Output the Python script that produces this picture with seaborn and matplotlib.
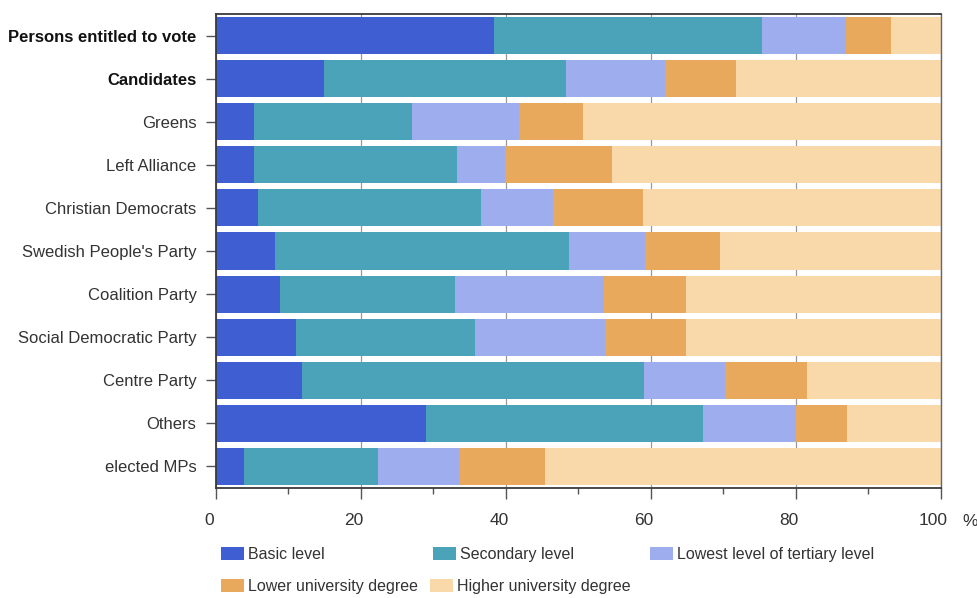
import matplotlib
matplotlib.use("Agg")
import matplotlib.pyplot as plt
import matplotlib.transforms as mtransforms
from matplotlib import font_manager
from matplotlib.patches import Patch
from matplotlib.ticker import MultipleLocator
import pandas as pd
import seaborn as sns

# education level shares (%) by group
groups = [
    "Persons entitled to vote", "Candidates", "Greens", "Left Alliance",
    "Christian Democrats", "Swedish People's Party", "Coalition Party",
    "Social Democratic Party", "Centre Party", "Others", "elected MPs",
]
levels = [
    "Basic level", "Secondary level", "Lowest level of tertiary level",
    "Lower university degree", "Higher university degree",
]
basic = [38.3, 14.9, 5.2, 5.2, 5.8, 8.2, 8.8, 11.0, 11.8, 29.0, 3.9]
secondary = [37.1, 33.4, 21.8, 28.0, 30.8, 40.5, 24.2, 24.7, 47.3, 38.2, 18.5]
lowest_tertiary = [11.5, 13.6, 14.8, 6.7, 9.9, 10.5, 20.6, 18.0, 11.1, 12.9, 11.1]
lower_university = [6.3, 9.8, 8.8, 14.7, 12.4, 10.3, 11.2, 11.2, 11.4, 7.0, 11.9]
higher_university = [6.8, 28.3, 49.4, 45.4, 41.1, 30.5, 35.2, 35.1, 18.4, 12.9, 54.6]
bold_groups = ["Persons entitled to vote", "Candidates"]

colors = ["#3F5ED2", "#4AA3B8", "#9DADEE", "#E9A95C", "#F9D8AA"]

sns.set_theme(style="white")
available = {f.name for f in font_manager.fontManager.ttflist}
if "Liberation Sans Narrow" in available:
    plt.rcParams["font.family"] = ["Liberation Sans Narrow", "DejaVu Sans"]
    fs = 14
else:
    plt.rcParams["font.family"] = ["Liberation Sans", "DejaVu Sans"]
    fs = 12

# cumulative boundaries for stacking
df = pd.DataFrame(
    {"group": groups, levels[0]: basic, levels[1]: secondary,
     levels[2]: lowest_tertiary, levels[3]: lower_university,
     levels[4]: higher_university}
)
cum = df[levels].cumsum(axis=1)
cum["group"] = df["group"]

fig = plt.figure(figsize=(9.77, 5.98), dpi=100)
ax = fig.add_axes([0.2211, 0.1839, 0.7416, 0.7927])

# draw longest first so the shorter bars sit on top
for level, color in reversed(list(zip(levels, colors))):
    sns.barplot(data=cum, x=level, y="group", color=color, orient="h",
                width=0.86, saturation=1, errorbar=None, ax=ax,
                edgecolor="none", linewidth=0)

ax.set_xlim(0, 100)
ax.set_ylim(10.5, -0.5)
ax.set_xlabel("")
ax.set_ylabel("")
ax.set_axisbelow(True)
ax.xaxis.set_major_locator(MultipleLocator(20))
ax.xaxis.set_minor_locator(MultipleLocator(10))
ax.grid(axis="x", which="major", color="#999999", linewidth=0.9)
ax.grid(axis="y", visible=False)

for side in ["left", "bottom", "top"]:
    ax.spines[side].set_color("#3a3a3a")
    ax.spines[side].set_linewidth(1.3)
ax.spines["right"].set_color("#666666")
ax.spines["right"].set_linewidth(1.0)

ax.tick_params(axis="x", which="major", direction="out", length=8, width=1,
               color="#555555", labelsize=fs + 0.5, labelcolor="#333333", pad=10)
ax.tick_params(axis="x", which="minor", direction="out", length=4.5, width=1,
               color="#555555")
ax.tick_params(axis="y", direction="out", length=7, width=1, color="#555555",
               labelsize=fs, labelcolor="#333333", pad=7)
ax.tick_params(bottom=True, left=True, which="both")
ax.tick_params(axis="y", which="minor", left=False)

for lab in ax.get_yticklabels():
    if lab.get_text() in bold_groups:
        lab.set_fontweight("bold")
        lab.set_color("#111111")

shift = mtransforms.ScaledTranslation(-7 / 100, 0, fig.dpi_scale_trans)
for lab in ax.get_xticklabels():
    lab.set_transform(lab.get_transform() + shift)

ax.text(970 / 977, 1 - 521 / 598, "%", transform=fig.transFigure,
        ha="center", va="center", fontsize=fs + 0.5, color="#333333")

# legend entries, placed like the original two rows
legend_pos = [(221, 554.5), (433, 554.5), (650, 554.5), (221, 586.5), (430, 586.5)]
for level, color, (px, py) in zip(levels, colors, legend_pos):
    fig.legend(handles=[Patch(facecolor=color, edgecolor="none")],
               labels=[level], loc="center left",
               bbox_to_anchor=(px / 977, 1 - py / 598),
               frameon=False, fontsize=fs - 0.5, borderpad=0,
               borderaxespad=0, handlelength=1.45, handleheight=0.8,
               handletextpad=0.25, labelcolor="#333333")

fig.savefig("out.png", dpi=100)
